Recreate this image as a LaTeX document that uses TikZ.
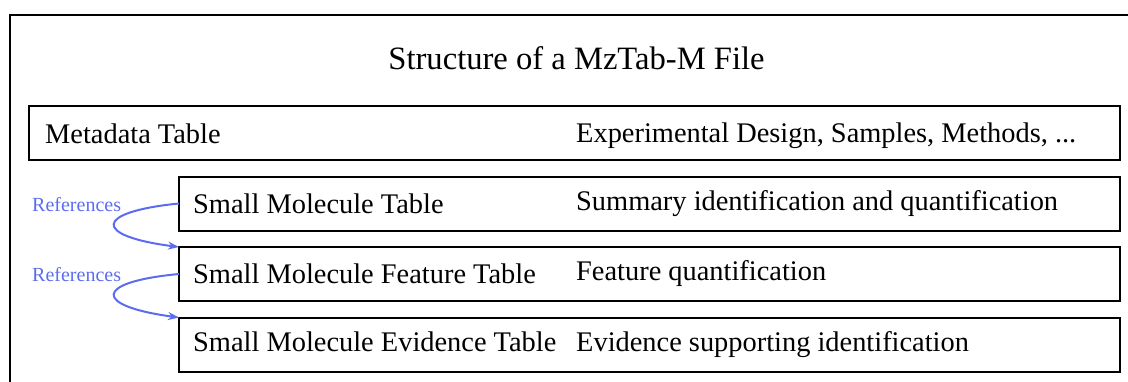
\documentclass[tikz,border=0pt]{standalone}
\usepackage{fontspec}
\setmainfont{Liberation Serif}
\usetikzlibrary{arrows.meta}
\definecolor{refblue}{RGB}{92,108,240}
\begin{document}
\begin{tikzpicture}[x=1pt,y=-1pt,
  tblbox/.style={draw, line width=2pt, minimum height=54pt, inner sep=0pt,
    anchor=north west, outer sep=0pt},
  tbltext/.style={anchor=base west, inner sep=0pt, font=\fontsize{28.4}{32}\selectfont},
  reftext/.style={anchor=base west, inner sep=0pt, text=refblue,
    font=\fontsize{20}{24}\selectfont},
  refarrow/.style={draw=refblue, line width=2pt,
    -{Stealth[length=11pt,width=8pt]}}]
  \useasboundingbox (0,0) rectangle (1128,381);
  \clip (0,0) rectangle (1128,381);

  % outer frame
  \draw[line width=2pt] (9.5,14.5) rectangle (1144,420);

  % title
  \node[anchor=base, inner sep=0pt, font=\fontsize{32.6}{38}\selectfont]
    (title) at (576.5,69) {Structure of a MzTab-M File};

  % table boxes
  \node[tblbox, minimum width=1091pt] (meta) at (29,106) {};
  \node[tblbox, minimum width=941pt] (smt)  at (179,176.5) {};
  \node[tblbox, minimum width=941pt] (smft) at (179,247) {};
  \node[tblbox, minimum width=941pt] (smet) at (179,317.5) {};

  % table names
  \node[tbltext] (metaname) at (45,143) {Metadata Table};
  \node[tbltext] (smtname)  at (193,213.3) {Small Molecule Table};
  \node[tbltext] (smftname) at (193,283.3) {Small Molecule Feature Table};
  \node[tbltext] (smetname) at (193,351.7) {Small Molecule Evidence Table};

  % table descriptions
  \node[tbltext] (metadesc) at (576,142.5) {Experimental Design, Samples, Methods, ...};
  \node[tbltext] (smtdesc)  at (576,210.7) {Summary identification and quantification};
  \node[tbltext] (smftdesc) at (576,280.7) {Feature quantification};
  \node[tbltext] (smetdesc) at (576,351.7) {Evidence supporting identification};

  % reference links
  \node[reftext] (ref1) at (32,211.7) {References};
  \node[reftext] (ref2) at (32,281.7) {References};
  \draw[refarrow] (smt.west) .. controls (93,212) and (93,236) .. (smft.north west);
  \draw[refarrow] (smft.west) .. controls (93,282) and (93,306) .. (smet.north west);
\end{tikzpicture}
\end{document}
